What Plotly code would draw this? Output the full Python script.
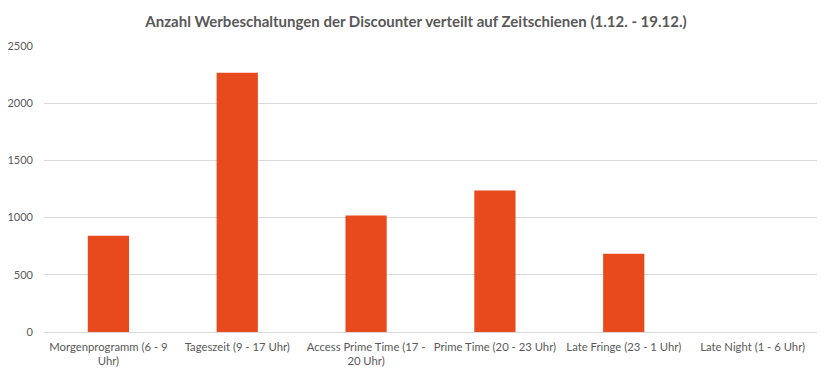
import plotly.graph_objects as go

categories = [
    "Morgenprogramm (6 - 9<br>Uhr)",
    "Tageszeit (9 - 17 Uhr)",
    "Access Prime Time (17 -<br>20 Uhr)",
    "Prime Time (20 - 23 Uhr)",
    "Late Fringe (23 - 1 Uhr)",
    "Late Night (1 - 6 Uhr)",
]
values = [842, 2266, 1018, 1236, 683, 0]
y_ticks = [0, 500, 1000, 1500, 2000, 2500]

font_family = "Lato, Open Sans, sans-serif"

fig = go.Figure(
    go.Bar(
        x=categories,
        y=values,
        marker=dict(color="#E8491D", line=dict(width=0)),
        hoverinfo="x+y",
    )
)

fig.update_layout(
    width=832,
    height=379,
    margin=dict(l=44, r=15, t=46, b=47),
    paper_bgcolor="white",
    plot_bgcolor="white",
    bargap=0.68,
    showlegend=False,
    title=dict(
        text="<b>Anzahl Werbeschaltungen der Discounter verteilt auf Zeitschienen (1.12. - 19.12.)</b>",
        x=0.5,
        xanchor="center",
        y=0.942,
        yanchor="middle",
        font=dict(family=font_family, size=15, color="#595959"),
    ),
    font=dict(family=font_family, size=11.3, color="#595959"),
)

fig.update_xaxes(
    showline=True,
    linecolor="#d9d9d9",
    linewidth=1,
    ticks="",
    showgrid=False,
    tickfont=dict(size=11.3, color="#595959"),
    tickangle=0,
    ticklabelstandoff=4,
    automargin=False,
)
fig.update_yaxes(
    range=[0, 2500],
    tickvals=y_ticks,
    ticktext=[str(v) for v in y_ticks],
    showgrid=True,
    gridcolor="#d9d9d9",
    gridwidth=1,
    zeroline=False,
    ticks="",
    ticklabelstandoff=10,
    tickfont=dict(size=11, color="#595959"),
    automargin=False,
)

fig.write_html(
    "out.html",
    config={"displayModeBar": False},
    post_script="document.body.style.margin='0';",
)
